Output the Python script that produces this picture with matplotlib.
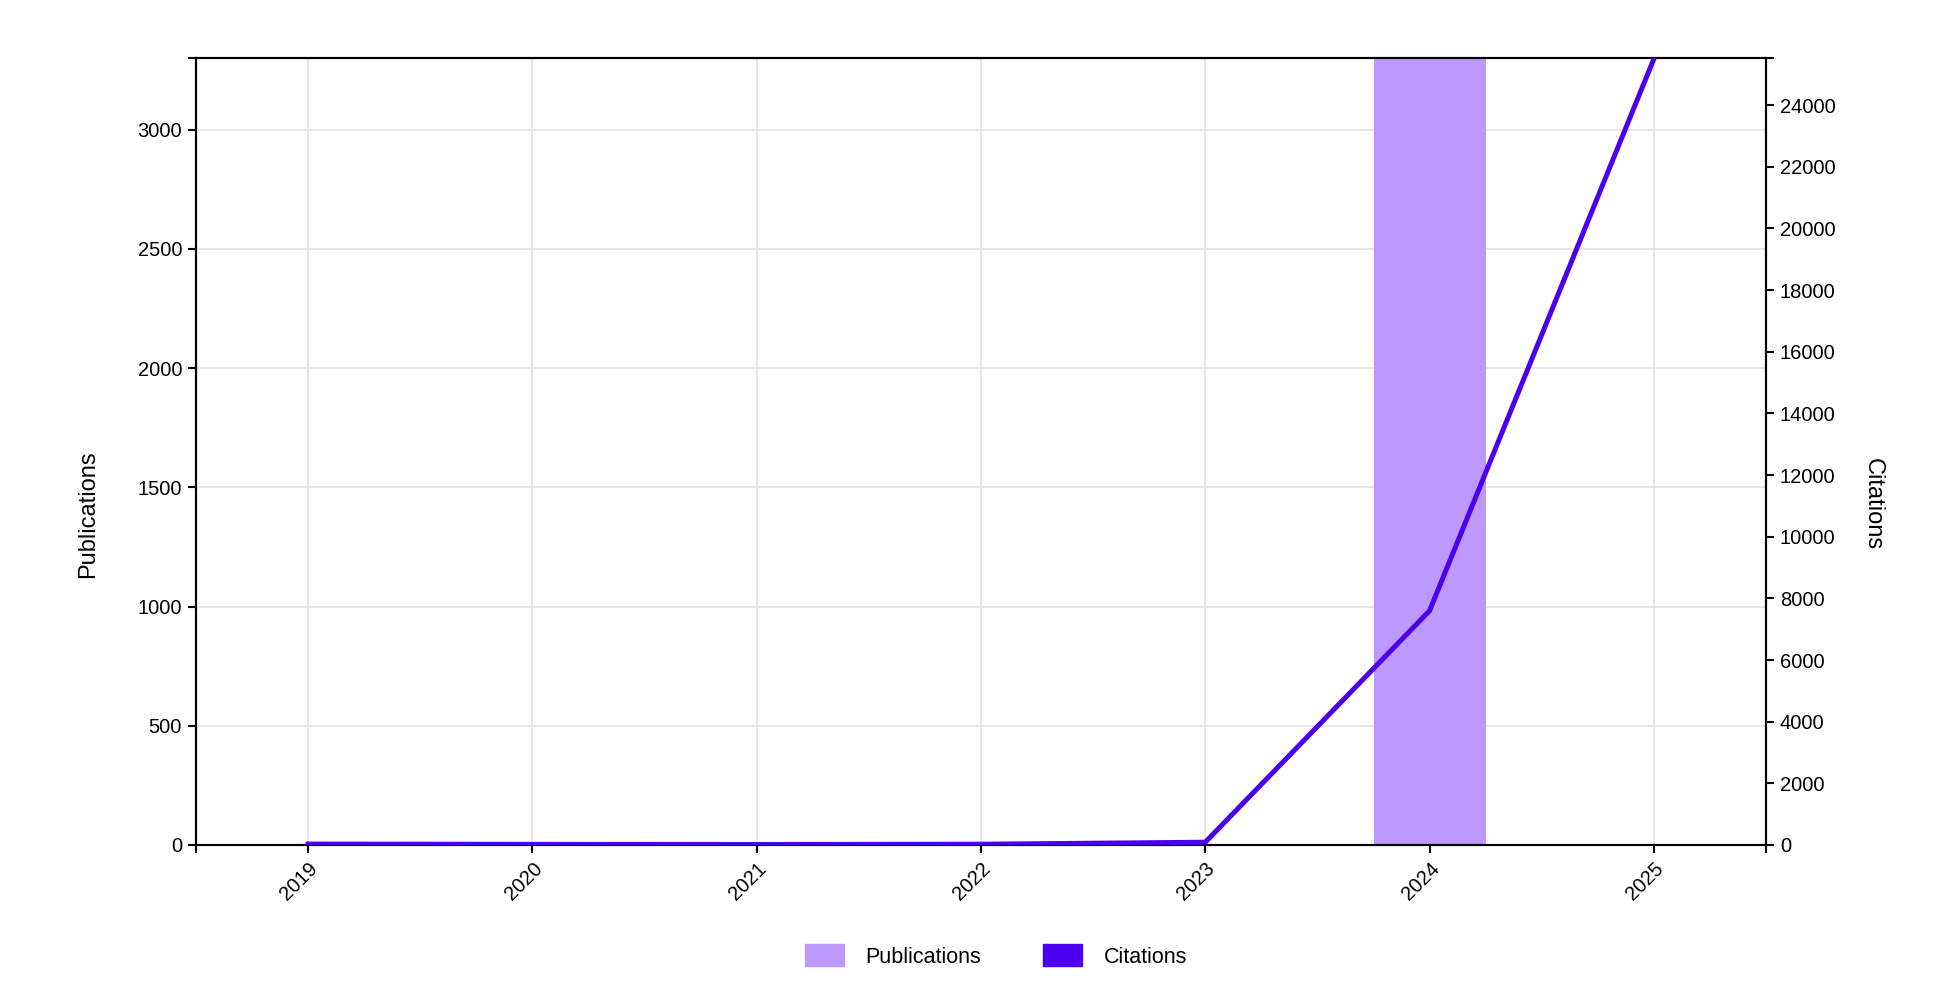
import matplotlib.pyplot as plt
import numpy as np

plt.rcParams['font.family'] = ['Liberation Sans', 'DejaVu Sans']

years = [2019, 2020, 2021, 2022, 2023, 2024, 2025]
publications = [0, 0, 0, 0, 0, 3300, 0]
citations = [30, 20, 15, 25, 90, 7600, 25500]

bar_color = "#bb99ff"
line_color = "#4a00ee"

fig = plt.figure(figsize=(19.42, 9.82), dpi=100)
ax1 = fig.add_axes([196 / 1942, 1 - 845 / 982, (1766 - 196) / 1942, (845 - 58) / 982])
ax2 = ax1.twinx()

ax1.bar(years, publications, width=0.5, color=bar_color, zorder=2, label="Publications")
ax2.plot(years, citations, color=line_color, lw=3.6, solid_joinstyle="miter", zorder=3)

ax1.set_xlim(2018.5, 2025.5)
ax1.set_ylim(0, 3300)
ax2.set_ylim(0, 25530)

ax1.set_xticks(years)
ax1.set_xticklabels([str(y) for y in years], rotation=45, ha="right", rotation_mode="anchor")
ax1.set_yticks(np.arange(0, 3001, 500))
ax2.set_yticks(np.arange(0, 24001, 2000))

# outer ticks at the ends of each axis
ax1.set_xticks([2018.5, 2025.5], minor=True)
ax1.set_yticks([3300], minor=True)
ax2.set_yticks([25530], minor=True)

ax1.grid(True, color="#e3e3e3", lw=1.2, zorder=0)
ax1.set_axisbelow(True)

for ax in (ax1, ax2):
    for s in ax.spines.values():
        s.set_linewidth(1.5)
        s.set_color("black")
    ax.tick_params(which="both", direction="out", length=6, width=1.5, labelsize=14.5, pad=4)

ax1.set_ylabel("Publications", fontsize=17)
ax1.yaxis.set_label_coords(-0.0616, 0.42)
ax2.set_ylabel("Citations", fontsize=17, rotation=270)
ax2.yaxis.set_label_coords(1.0747, 0.433)

handles = [plt.Rectangle((0, 0), 1, 1, color=bar_color),
           plt.Rectangle((0, 0), 1, 1, color=line_color)]
fig.legend(handles, ["Publications", "Citations"], loc="center", bbox_to_anchor=(0.5128, 1 - 956 / 982),
           ncol=2, frameon=False, fontsize=15.5, handlelength=1.8, handleheight=1.2,
           columnspacing=2.9, handletextpad=1.0)

plt.savefig("out.png", dpi=100)
plt.close()
